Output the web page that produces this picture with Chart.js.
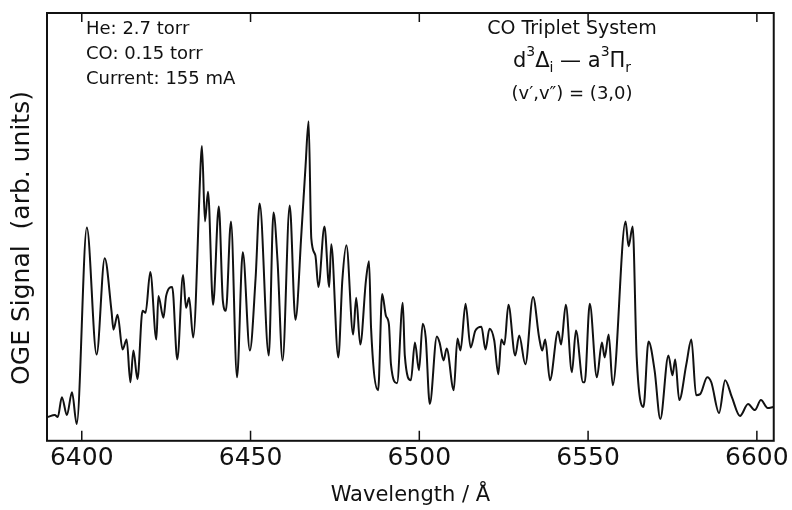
<!DOCTYPE html>
<html>
<head>
<meta charset="utf-8">
<script src="https://cdn.jsdelivr.net/npm/chart.js"></script>
<style>
  html, body { margin: 0; padding: 0; background: #fff; }
  #wrap { width: 792px; height: 510px; position: relative; }
</style>
</head>
<body>
<div id="wrap"><canvas id="ogeChart"></canvas></div>
<script>
// wavelength (Angstrom) and OGE signal (arb. units)
const wavelength = [
  6390.0, 6392.0, 6392.9, 6394.1, 6395.6, 6397.1, 6398.5, 6401.5, 6404.4, 6406.8,
  6408.8, 6409.4, 6410.6, 6412.1, 6413.3, 6414.4, 6415.3, 6416.5, 6418.0, 6418.9,
  6420.3, 6422.1, 6422.7, 6424.2, 6425.0, 6426.8, 6428.3, 6430.0, 6430.9, 6431.8,
  6433.0, 6435.3, 6435.6, 6436.5, 6437.4, 6438.9, 6440.6, 6441.8, 6442.7, 6444.2,
  6446.0, 6447.7, 6449.8, 6451.5, 6452.7, 6455.4, 6456.8, 6458.0, 6459.5, 6461.6,
  6463.3, 6465.1, 6466.3, 6467.2, 6468.0, 6469.2, 6470.1, 6471.9, 6473.3, 6473.9,
  6476.0, 6477.2, 6478.4, 6480.4, 6481.3, 6482.5, 6484.2, 6485.1, 6485.7, 6487.8,
  6489.0, 6490.1, 6491.0, 6491.6, 6493.4, 6495.1, 6495.7, 6497.5, 6498.7, 6499.9,
  6501.0, 6501.9, 6503.1, 6505.2, 6506.0, 6507.2, 6508.1, 6510.2, 6511.3, 6512.2,
  6513.7, 6515.2, 6516.6, 6518.4, 6519.6, 6520.8, 6522.2, 6523.4, 6524.3, 6525.2,
  6526.4, 6528.4, 6529.6, 6531.4, 6533.7, 6535.5, 6536.4, 6537.3, 6538.7, 6541.1,
  6542.0, 6543.4, 6545.2, 6546.4, 6548.5, 6549.0, 6550.5, 6552.6, 6554.1, 6554.9,
  6556.1, 6557.3, 6561.1, 6562.0, 6563.2, 6564.4, 6566.4, 6567.9, 6569.7, 6571.4,
  6573.8, 6575.0, 6575.8, 6577.0, 6579.1, 6580.6, 6582.0, 6583.2, 6585.3, 6586.5,
  6588.8, 6590.6, 6592.6, 6595.0, 6597.4, 6599.4, 6601.2, 6603.2, 6604.8
];
const signal = [
  24, 26, 24, 44, 26, 49, 17, 215, 87, 184,
  131, 112, 127, 92, 102, 59, 91, 62, 131, 129,
  170, 102, 146, 124, 146, 155, 82, 167, 134, 144,
  104, 284, 297, 221, 251, 137, 236, 141, 131, 221,
  64, 190, 91, 164, 239, 86, 230, 181, 81, 237,
  122, 211, 277, 322, 204, 187, 155, 216, 155, 198,
  84, 162, 197, 107, 144, 97, 162, 181, 114, 51,
  148, 126, 117, 77, 58, 139, 86, 61, 99, 71,
  118, 104, 37, 105, 99, 81, 93, 51, 103, 91,
  138, 94, 111, 115, 92, 113, 101, 67, 102, 97,
  137, 86, 106, 77, 145, 104, 91, 102, 61, 110,
  97, 137, 69, 111, 59, 59, 138, 64, 99, 84,
  107, 56, 221, 196, 216, 84, 34, 100, 71, 22,
  86, 66, 82, 41, 77, 102, 46, 47, 64, 59,
  28, 61, 44, 25, 37, 31, 41, 33, 34
];
const xTicks = [6400, 6450, 6500, 6550, 6600];

const leftNotes = ["He: 2.7 torr", "CO: 0.15 torr", "Current: 155 mA"];

const points = wavelength.map((w, i) => ({ x: w, y: signal[i] }));

// frame, inward ticks and the text annotations
const decor = {
  id: 'decor',
  afterDraw(chart) {
    const ctx = chart.ctx;
    const a = chart.chartArea;
    const xs = chart.scales.x;
    ctx.save();
    ctx.strokeStyle = '#111';
    ctx.lineWidth = 2;
    ctx.strokeRect(a.left, a.top, a.right - a.left, a.bottom - a.top);
    ctx.lineWidth = 1.5;
    xTicks.forEach(t => {
      const px = xs.getPixelForValue(t);
      ctx.beginPath();
      ctx.moveTo(px, a.bottom); ctx.lineTo(px, a.bottom - 10);
      ctx.moveTo(px, a.top); ctx.lineTo(px, a.top + 9);
      ctx.stroke();
    });

    ctx.fillStyle = '#111';
    ctx.textBaseline = 'alphabetic';
    ctx.font = '18px "DejaVu Sans"';
    ctx.textAlign = 'left';
    leftNotes.forEach((s, i) => ctx.fillText(s, 86, 34 + i * 25));

    ctx.textAlign = 'center';
    ctx.font = '19px "DejaVu Sans"';
    ctx.fillText('CO Triplet System', 572, 34);
    ctx.font = '18px "DejaVu Sans"';
    ctx.fillText('(v\u2032,v\u2033) = (3,0)', 572, 99);

    // d3Δi — a3Πr
    const big = '21px "DejaVu Sans"', small = '14px "DejaVu Sans"';
    const parts = [
      ['d', big, 0], ['3', small, -11], ['\u0394', big, 0], ['i', small, 5],
      [' \u2014 ', big, 0], ['a', big, 0], ['3', small, -11], ['\u03A0', big, 0], ['r', small, 5]
    ];
    let total = 0;
    parts.forEach(p => { ctx.font = p[1]; total += ctx.measureText(p[0]).width; });
    let cx = 572 - total / 2;
    ctx.textAlign = 'left';
    parts.forEach(p => {
      ctx.font = p[1];
      ctx.fillText(p[0], cx, 67 + p[2]);
      cx += ctx.measureText(p[0]).width;
    });

    // y axis title
    ctx.font = '25px "DejaVu Sans"';
    ctx.textAlign = 'center';
    ctx.translate(29, 238);
    ctx.rotate(-Math.PI / 2);
    ctx.fillText('OGE Signal  (arb. units)', 0, 0);
    ctx.restore();
  }
};

new Chart(document.getElementById('ogeChart'), {
  type: 'line',
  data: {
    datasets: [{
      data: points,
      borderColor: '#111',
      borderWidth: 2,
      pointRadius: 0,
      fill: false,
      cubicInterpolationMode: 'monotone'
    }]
  },
  options: {
    responsive: true,
    maintainAspectRatio: false,
    animation: false,
    layout: { autoPadding: false, padding: { left: 47, right: 14, top: 13, bottom: 2 } },
    plugins: { legend: { display: false }, tooltip: { enabled: false } },
    scales: {
      x: {
        type: 'linear',
        min: 6389.7,
        max: 6605,
        afterBuildTicks: s => { s.ticks = xTicks.map(v => ({ value: v })); },
        ticks: {
          color: '#111',
          font: { family: 'DejaVu Sans', size: 25 },
          padding: 3,
          maxRotation: 0,
          callback: v => String(v)
        },
        grid: { display: false, drawTicks: false },
        border: { display: false },
        title: {
          display: true,
          text: 'Wavelength / \u00C5',
          color: '#111',
          font: { family: 'DejaVu Sans', size: 21 },
          padding: { top: 6, bottom: 0 }
        }
      },
      y: {
        display: false,
        min: 0,
        max: 431
      }
    }
  },
  plugins: [decor]
});
</script>
</body>
</html>
